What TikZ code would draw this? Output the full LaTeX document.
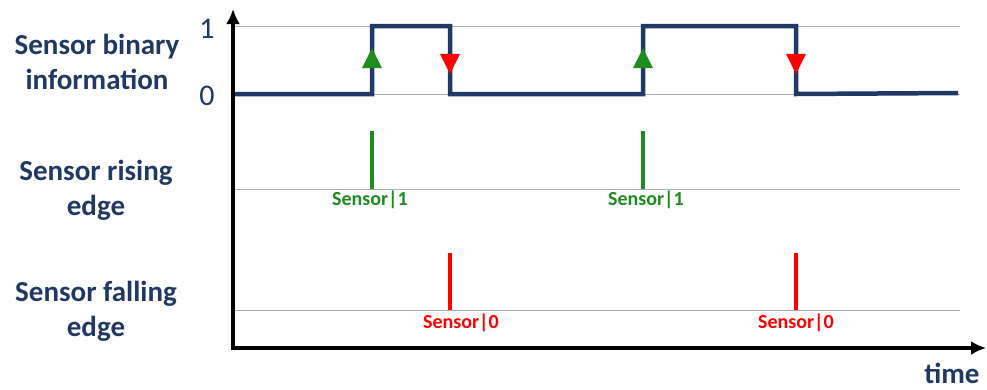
\documentclass[tikz,border=0pt]{standalone}
\usepackage{fontspec}
\setmainfont{Carlito}
\usetikzlibrary{arrows.meta, positioning, shapes.geometric}
\definecolor{navy}{RGB}{31,56,100}
\definecolor{risegreen}{RGB}{30,140,30}
\definecolor{fallred}{RGB}{255,0,0}
\definecolor{gridgray}{RGB}{165,175,190}

\begin{document}
\begin{tikzpicture}[x=1pt, y=-1pt]
	\tikzset{>={Latex[length=15pt, width=14pt]},
		rowlabel/.style={align=center, text=navy, font=\bfseries\fontsize{29}{35}\selectfont},
		level/.style={text=navy, font=\fontsize{30}{34}\selectfont},
		gridline/.style={line width=1pt, draw=gridgray},
		signal/.style={line width=4.5pt, draw=navy, line join=miter},
		pulse/.style={line width=4pt},
		edgelabel/.style={font=\bfseries\fontsize{20}{24}\selectfont},
		uptri/.style={isosceles triangle, isosceles triangle stretches, shape border rotate=90,
			minimum width=20pt, minimum height=20pt, inner sep=0pt, fill=risegreen},
		downtri/.style={isosceles triangle, isosceles triangle stretches, shape border rotate=-90,
			minimum width=20pt, minimum height=20pt, inner sep=0pt, fill=fallred}}

	\useasboundingbox (0,0) rectangle (987,389);

	% row titles
	\node[rowlabel] (binary) at (97,62) {Sensor binary\\information};
	\node[rowlabel] (rising) at (96,190) {Sensor rising\\edge};
	\node[rowlabel] (falling) at (96,311) {Sensor falling\\edge};
	\node[level] (one) at (207,29) {1};
	\node[level] (zero) at (207,96) {0};
	\node[rowlabel, anchor=base, inner sep=0pt] (time) at (952,383) {time};

	% grid
	\coordinate (g1a) at (233,26);  \coordinate (g1b) at (960,26);
	\coordinate (g0a) at (233,94);  \coordinate (g0b) at (960,94);
	\coordinate (gra) at (233,189); \coordinate (grb) at (960,189);
	\coordinate (gfa) at (233,310); \coordinate (gfb) at (960,310);
	\draw[gridline] (g1a) -- (g1b);
	\draw[gridline] (g0a) -- (g0b);
	\draw[gridline] (gra) -- (grb);
	\draw[gridline] (gfa) -- (gfb);

	% signal
	\coordinate (s0) at (235,94);
	\coordinate (s1) at (372,94);  \coordinate (s2) at (372,26);
	\coordinate (s3) at (450,26);  \coordinate (s4) at (450,94);
	\coordinate (s5) at (643,94);  \coordinate (s6) at (643,26);
	\coordinate (s7) at (796,26);  \coordinate (s8) at (796,94);
	\coordinate (s9) at (958,93);
	\draw[signal] (s0) -- (s1) -- (s2) -- (s3) -- (s4) -- (s5) -- (s6) -- (s7) -- (s8) -- (s9);

	\node[uptri] (up1) at (372,62) {};
	\node[downtri] (dn1) at (450,60) {};
	\node[uptri] (up2) at (643,62) {};
	\node[downtri] (dn2) at (796,60) {};

	% axes
	\coordinate (ytop) at (233,9);
	\coordinate (orig) at (233,348);
	\coordinate (xend) at (986,348);
	\draw[line width=3.5pt, <->, line join=miter] (ytop) -- (orig) -- (xend);

	% rising edge pulses
	\coordinate (r1t) at (372,131); \coordinate (r1b) at (372,189);
	\coordinate (r2t) at (643,131); \coordinate (r2b) at (643,189);
	\draw[pulse, risegreen] (r1t) -- (r1b);
	\draw[pulse, risegreen] (r2t) -- (r2b);
	\node[edgelabel, text=risegreen] (lr1) at (370,200) {Sensor|1};
	\node[edgelabel, text=risegreen] (lr2) at (646,200) {Sensor|1};

	% falling edge pulses
	\coordinate (f1t) at (450,253); \coordinate (f1b) at (450,310);
	\coordinate (f2t) at (796,253); \coordinate (f2b) at (796,310);
	\draw[pulse, fallred] (f1t) -- (f1b);
	\draw[pulse, fallred] (f2t) -- (f2b);
	\node[edgelabel, text=fallred] (lf1) at (461,323) {Sensor|0};
	\node[edgelabel, text=fallred] (lf2) at (796,323) {Sensor|0};
\end{tikzpicture}
\end{document}
